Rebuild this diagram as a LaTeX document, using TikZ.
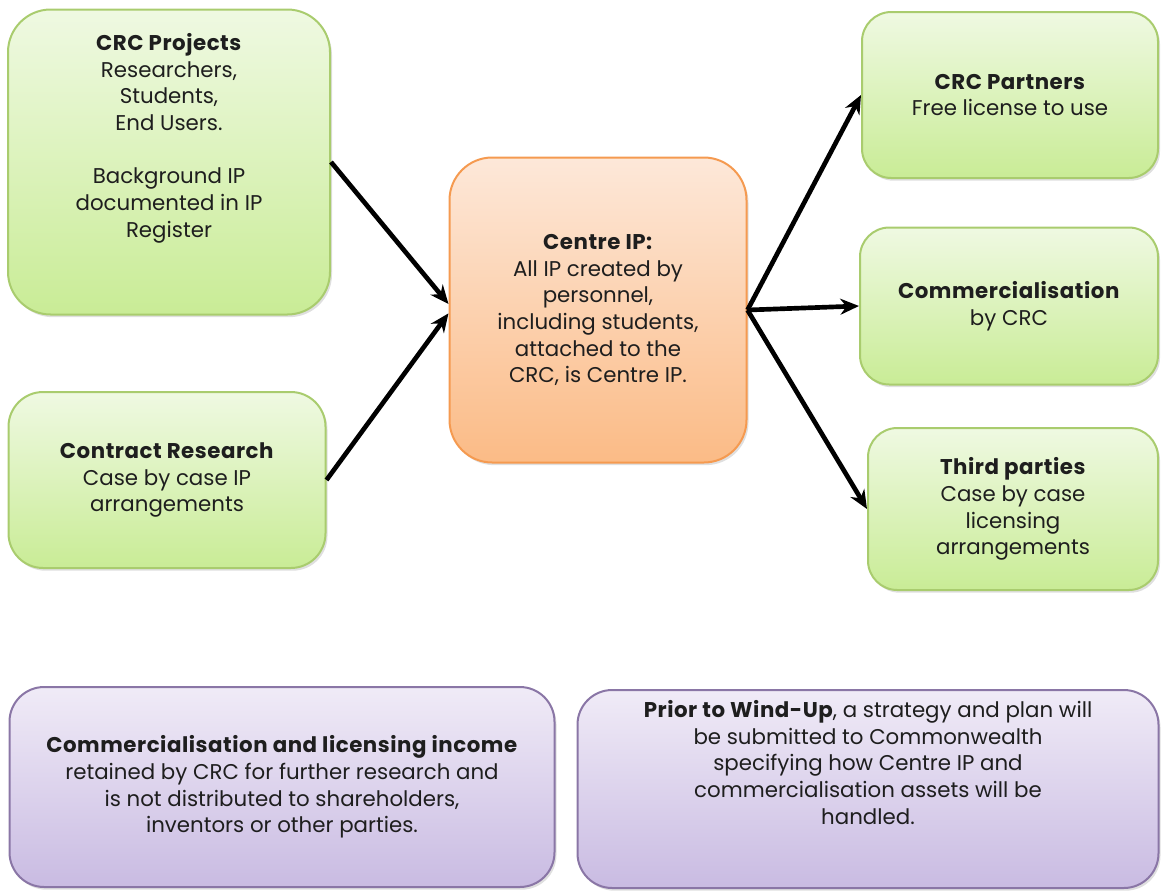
\documentclass[tikz,border=0pt]{standalone}
\usepackage{fontspec}
\setmainfont{Poppins}[BoldFeatures={LetterSpace=2.5}]
\usepackage{tikz}
\usetikzlibrary{shapes}
\usetikzlibrary{positioning}
\usetikzlibrary{arrows.meta}
\usetikzlibrary{shadows}
\definecolor{greentop}{HTML}{EFF9E2}
\definecolor{greenbot}{HTML}{C9EC96}
\definecolor{greenline}{HTML}{A9CC6E}
\definecolor{orangetop}{HTML}{FDE8D9}
\definecolor{orangebot}{HTML}{FBBB86}
\definecolor{orangeline}{HTML}{F59A50}
\definecolor{purpletop}{HTML}{F0EBF7}
\definecolor{purplebot}{HTML}{C9BBE2}
\definecolor{purpleline}{HTML}{8A76A6}
\definecolor{inktext}{HTML}{1E1E1E}
\tikzset{
    mynode/.style = {rectangle, line width=1.5pt, align=center, text=inktext,
      font=\fontsize{16}{20}\selectfont,
      drop shadow={opacity=0.25, shadow xshift=1.5pt, shadow yshift=-2pt}},
    mynodeg/.style = {mynode, draw=greenline, top color=greentop, bottom color=greenbot},
    mynodeo/.style = {mynode, draw=orangeline, top color=orangetop, bottom color=orangebot},
    mynodep/.style = {mynode, draw=purpleline, top color=purpletop, bottom color=purplebot},
    edgen/.style = {-{Stealth[length=14pt,width=12pt]}, line width=3.5pt, black}
}

\begin{document}
\begin{tikzpicture}[x=0.75pt, y=-0.75pt]
  \useasboundingbox (0,0) rectangle (1161,890);
  % left side
  \node[mynodeg, minimum width=322*0.75pt, minimum height=305*0.75pt, rounded corners=32pt] (proj) at (169,162)
    {\textbf{CRC Projects}\\Researchers,\\Students,\\End Users.\\~\\Background IP\\documented in IP\\Register\\~\\~};
  \node[mynodeg, minimum width=317*0.75pt, minimum height=176*0.75pt, rounded corners=26pt] (contract) at (167,480)
    {\textbf{Contract Research}\\Case by case IP\\arrangements};
  % centre
  \node[mynodeo, minimum width=297*0.75pt, minimum height=305*0.75pt, rounded corners=32pt] (centre) at (598,310)
    {\textbf{Centre IP:}\\All IP created by\\personnel,\\including students,\\attached to the\\CRC, is Centre IP.};
  % right side
  \node[mynodeg, minimum width=296*0.75pt, minimum height=166*0.75pt, rounded corners=22pt] (partners) at (1010,95)
    {\textbf{CRC Partners}\\Free license to use};
  \node[mynodeg, minimum width=298*0.75pt, minimum height=157*0.75pt, rounded corners=22pt] (comm) at (1009,306)
    {\textbf{Commercialisation}\\by CRC};
  \node[mynodeg, minimum width=290*0.75pt, minimum height=162*0.75pt, rounded corners=22pt] (third) at (1013,509)
    {\textbf{Third parties}\\Case by case\\licensing\\arrangements};
  % bottom
  \node[mynodep, minimum width=545*0.75pt, minimum height=200*0.75pt, rounded corners=26pt] (income) at (282,787)
    {\textbf{Commercialisation and licensing income}\\retained by CRC for further research and\\is not distributed to shareholders,\\inventors or other parties.};
  \node[mynodep, minimum width=581*0.75pt, minimum height=198*0.75pt, rounded corners=26pt] (windup) at (868,789)
    {\textbf{Prior to Wind-Up}, a strategy and plan will\\be submitted to Commonwealth\\specifying how Centre IP and\\commercialisation assets will be\\handled.\\~\\~};

  \draw[edgen] (proj.east) -- ([yshift=4.5pt]centre.west);
  \draw[edgen] (contract.east) -- ([yshift=-2.5pt]centre.west);
  \draw[edgen] (centre.east) -- (partners.west);
  \draw[edgen] (centre.east) -- (comm.west);
  \draw[edgen] (centre.east) -- (third.west);
\end{tikzpicture}
\end{document}
